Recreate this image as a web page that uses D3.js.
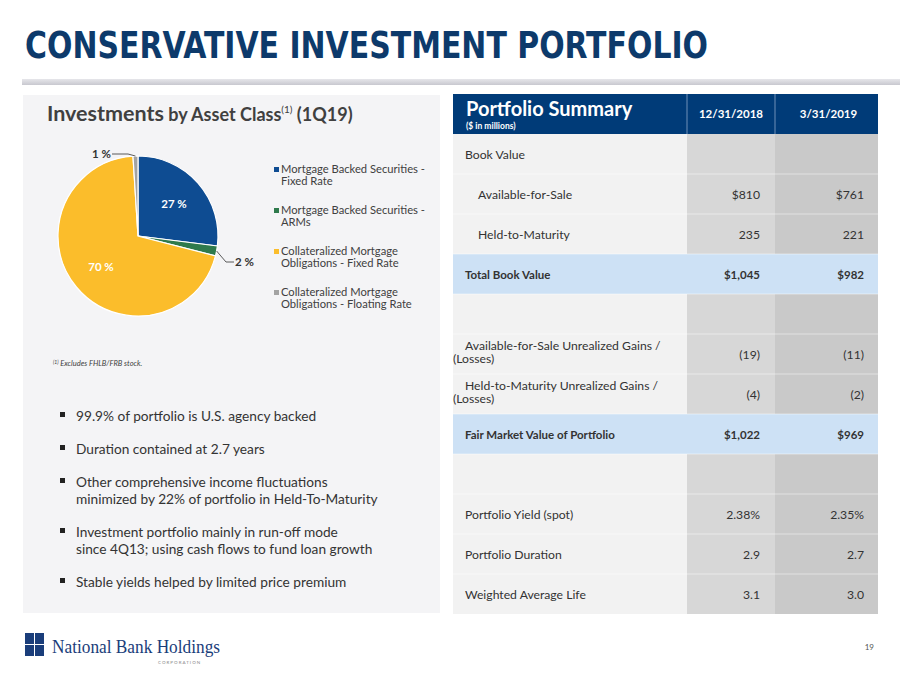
<!DOCTYPE html>
<html><head><meta charset="utf-8">
<script src="https://cdn.jsdelivr.net/npm/d3@7"></script>
<style>
body{margin:0;background:#fff;}
svg{display:block;}
</style></head>
<body>
<svg id="c" width="900" height="675"></svg>
<script>
// ---- data ----
const pieCategories = ["Mortgage Backed Securities - Fixed Rate","Mortgage Backed Securities - ARMs","Collateralized Mortgage Obligations - Fixed Rate","Collateralized Mortgage Obligations - Floating Rate"];
const legendLines = [["Mortgage Backed Securities -","Fixed Rate"],["Mortgage Backed Securities -","ARMs"],["Collateralized Mortgage","Obligations - Fixed Rate"],["Collateralized Mortgage","Obligations - Floating Rate"]];
const pieValues = [27, 2, 70, 1];
const pieColors = ["#0e4c92","#2f7a4c","#fbbd2b","#a3a3a3"];

const tableHeaders = ["12/31/2018","3/31/2019"];
const rowLabels = [["Book Value"],["Available-for-Sale"],["Held-to-Maturity"],["Total Book Value"],[""],["Available-for-Sale Unrealized Gains /","(Losses)"],["Held-to-Maturity Unrealized Gains /","(Losses)"],["Fair Market Value of Portfolio"],[""],["Portfolio Yield (spot)"],["Portfolio Duration"],["Weighted Average Life"]];
const col2018 = ["","$810","235","$1,045","","(19)","(4)","$1,022","","2.38%","2.9","3.1"];
const col2019 = ["","$761","221","$982","","(11)","(2)","$969","","2.35%","2.7","3.0"];
const rowType = ["plain","indent","indent","total","plain","wrap","wrap","total","plain","plain","plain","plain"];

const bullets = [["99.9% of portfolio is U.S. agency backed"],["Duration contained at 2.7 years"],["Other comprehensive income fluctuations","minimized by 22% of portfolio in Held-To-Maturity"],["Investment portfolio mainly in run-off mode","since 4Q13; using cash flows to fund loan growth"],["Stable yields helped by limited price premium"]];

// ---- drawing ----
const svg = d3.select("#c");
const font = "Lato, 'Open Sans', sans-serif";

// title
svg.append("text").attr("x",25).attr("y",58).text("CONSERVATIVE INVESTMENT PORTFOLIO")
  .attr("font-family","'Liberation Sans Narrow', 'DejaVu Sans Condensed', sans-serif").attr("font-weight","bold")
  .attr("font-size",37).attr("fill","#0d3a6b").attr("textLength",683).attr("lengthAdjust","spacingAndGlyphs");
const grad = svg.append("defs").append("linearGradient").attr("id","g").attr("x1",0).attr("x2",0).attr("y1",0).attr("y2",1);
grad.append("stop").attr("offset","0").attr("stop-color","#e6e6ea");
grad.append("stop").attr("offset","1").attr("stop-color","#c8c8cf");
svg.append("rect").attr("x",22).attr("y",79).attr("width",878).attr("height",6).attr("fill","url(#g)");

// left panel
svg.append("rect").attr("x",23).attr("y",95).attr("width",417).attr("height",518).attr("fill","#f4f4f6");
const t = svg.append("text").attr("x",47).attr("y",121).attr("font-family",font).attr("font-weight","bold").attr("fill","#404040");
t.append("tspan").attr("font-size",21.5).text("Investments");
t.append("tspan").attr("font-size",18).text(" by Asset Class");
t.append("tspan").attr("font-size",10).attr("dy",-8).attr("font-weight","normal").text("(1)");
t.append("tspan").attr("font-size",18).attr("dy",8).text(" (1Q19)");

// pie
const cx=138, cy=236, r=80;
const pie = d3.pie().sort(null).value(d=>d)(pieValues);
const arc = d3.arc().innerRadius(0).outerRadius(r);
const g = svg.append("g").attr("transform",`translate(${cx},${cy})`);
g.selectAll("path").data(pie).join("path").attr("d",arc).attr("fill",(d,i)=>pieColors[i]).attr("stroke","#fff").attr("stroke-width",1.2);
const inArc = d3.arc().innerRadius(r*0.6).outerRadius(r*0.6);
[0,2].forEach(i=>{
  const [x,y]=inArc.centroid(pie[i]);
  g.append("text").attr("x",x).attr("y",y+4).attr("text-anchor","middle").attr("font-family",font).attr("font-weight","bold")
   .attr("font-size",11.5).attr("fill","#fff").text(pieValues[i]+" %");
});
const edgeArc = d3.arc().innerRadius(r).outerRadius(r);
function outside(i, lx, ly, anchor, tx){
  const [x,y]=edgeArc.centroid(pie[i]);
  g.append("polyline").attr("points",`${x},${y} ${lx},${ly} ${tx},${ly}`).attr("fill","none").attr("stroke","#333").attr("stroke-width",0.8);
  g.append("text").attr("x",anchor==="end"?tx-1:tx+1).attr("y",ly+4).attr("text-anchor",anchor).attr("font-family",font).attr("font-weight","bold")
   .attr("font-size",11.5).attr("fill","#333").text(pieValues[i]+" %");
}
outside(1, 88, 26, "start", 96);
outside(3, -10, -82, "end", -26);

// legend
const lg = svg.append("g");
legendLines.forEach((lines,i)=>{
  const y0 = 173 + i*41;
  lg.append("rect").attr("x",274).attr("y",y0-6).attr("width",5).attr("height",5).attr("fill",pieColors[i]);
  lines.forEach((l,j)=>lg.append("text").attr("x",281).attr("y",y0+j*12).attr("font-family",font).attr("font-size",11.2).attr("fill","#404040").text(l));
});

// footnote
const fn = svg.append("text").attr("x",53).attr("y",366).attr("font-family",font).attr("font-style","italic").attr("font-size",7.5).attr("fill","#404040");
fn.append("tspan").attr("font-size",5).attr("dy",-2).text("(1)");
fn.append("tspan").attr("dy",2).text(" Excludes FHLB/FRB stock.");

// bullets
let by = 421;
bullets.forEach(lines=>{
  svg.append("rect").attr("x",60).attr("y",by-9).attr("width",5).attr("height",5).attr("fill","#222");
  lines.forEach((l,j)=>svg.append("text").attr("x",76).attr("y",by+j*17).attr("font-family",font).attr("font-size",13.7).attr("fill","#333").text(l));
  by += lines.length===1 ? 33 : 50;
});

// table
const tx0=453, c1=687, c2=775, tx1=878, hy0=94, hy1=134, rh=40;
svg.append("rect").attr("x",tx0).attr("y",hy0).attr("width",tx1-tx0).attr("height",hy1-hy0).attr("fill","#003b78");
svg.append("line").attr("x1",c1).attr("x2",c1).attr("y1",hy0).attr("y2",hy1).attr("stroke","#8aa6c8").attr("stroke-width",0.8);
svg.append("line").attr("x1",c2).attr("x2",c2).attr("y1",hy0).attr("y2",hy1).attr("stroke","#8aa6c8").attr("stroke-width",0.8);
svg.append("text").attr("x",466).attr("y",116).attr("font-family",font).attr("font-weight","bold").attr("font-size",20).attr("fill","#fff").text("Portfolio Summary");
svg.append("text").attr("x",466).attr("y",129).attr("font-family",font).attr("font-weight","bold").attr("font-size",8.5).attr("fill","#fff").text("($ in millions)");
svg.append("text").attr("x",(c1+c2)/2).attr("y",118).attr("text-anchor","middle").attr("font-family",font).attr("font-weight","bold").attr("font-size",11.5).attr("fill","#fff").text(tableHeaders[0]);
svg.append("text").attr("x",(c2+tx1)/2+2).attr("y",118).attr("text-anchor","middle").attr("font-family",font).attr("font-weight","bold").attr("font-size",11.5).attr("fill","#fff").text(tableHeaders[1]);

const rowsG = svg.append("g");
rowLabels.forEach((lab,i)=>{
  const y = hy1 + i*rh, type=rowType[i], total = type==="total";
  rowsG.append("rect").attr("x",tx0).attr("y",y).attr("width",c1-tx0).attr("height",rh).attr("fill",total?"#cde1f5":"#f2f2f2");
  rowsG.append("rect").attr("x",c1).attr("y",y).attr("width",c2-c1).attr("height",rh).attr("fill",total?"#cde1f5":"#d7d7d7");
  rowsG.append("rect").attr("x",c2).attr("y",y).attr("width",tx1-c2).attr("height",rh).attr("fill",total?"#cde1f5":"#c9c9c9");
  if(i>0) rowsG.append("line").attr("x1",tx0).attr("x2",tx1).attr("y1",y).attr("y2",y).attr("stroke","#fff").attr("stroke-opacity",0.6).attr("stroke-width",0.8);
  const fw = total?"bold":"normal";
  const fs = total?11.5:12.2;
  if(type==="wrap"){
    rowsG.append("text").attr("x",465).attr("y",y+16).attr("font-family",font).attr("font-size",fs).attr("fill","#333").text(lab[0]);
    rowsG.append("text").attr("x",453).attr("y",y+29).attr("font-family",font).attr("font-size",fs).attr("fill","#333").text(lab[1]);
  } else {
    rowsG.append("text").attr("x",type==="indent"?478:465).attr("y",y+25).attr("font-family",font).attr("font-weight",fw).attr("font-size",fs).attr("fill","#333").text(lab[0]);
  }
  const vy = y+25;
  rowsG.append("text").attr("x",760).attr("y",vy).attr("text-anchor","end").attr("font-family",font).attr("font-weight",fw).attr("font-size",fs).attr("fill","#333").text(col2018[i]);
  rowsG.append("text").attr("x",864).attr("y",vy).attr("text-anchor","end").attr("font-family",font).attr("font-weight",fw).attr("font-size",fs).attr("fill","#333").text(col2019[i]);
});

// logo
const logo = svg.append("g");
[[25,633],[35,633],[25,645],[35,645]].forEach(([x,y])=>logo.append("rect").attr("x",x).attr("y",y).attr("width",9).attr("height",11).attr("fill","#1a3d7a"));
logo.append("text").attr("x",52).attr("y",653).attr("font-family","'Liberation Serif', serif").attr("font-size",19).attr("fill","#1a3d7a").attr("textLength",168).attr("lengthAdjust","spacingAndGlyphs").text("National Bank Holdings");
logo.append("text").attr("x",158).attr("y",664).attr("font-family",font).attr("font-size",4.5).attr("fill","#8a8a8a").attr("letter-spacing",1).text("CORPORATION");
svg.append("text").attr("x",874).attr("y",650).attr("text-anchor","end").attr("font-family",font).attr("font-size",8).attr("fill","#555").text("19");
</script>
</body></html>
